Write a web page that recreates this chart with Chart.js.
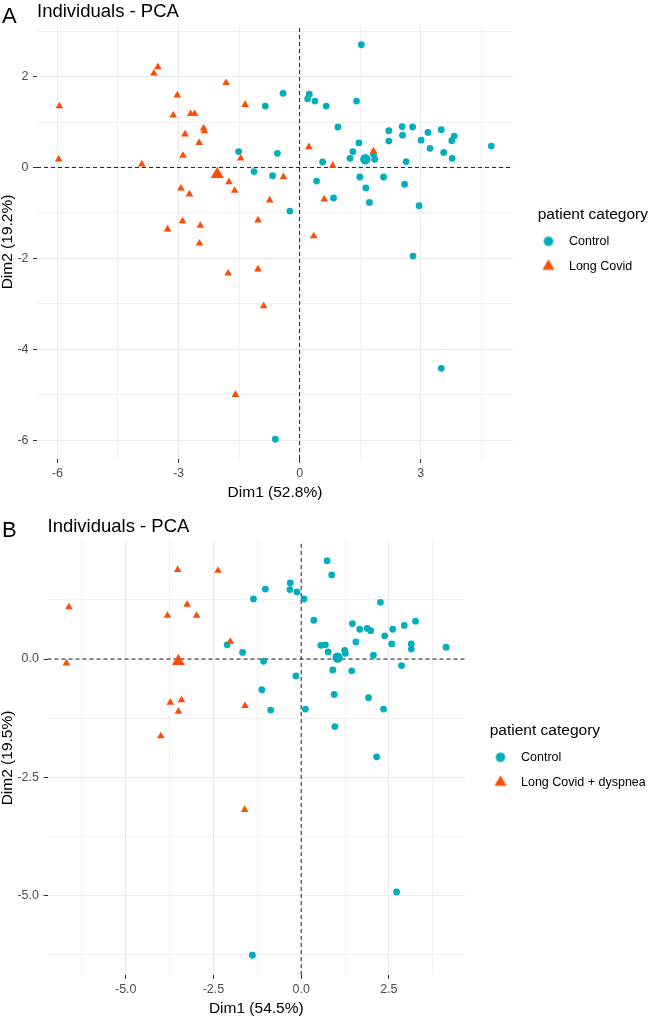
<!DOCTYPE html>
<html>
<head>
<meta charset="utf-8">
<title>Individuals - PCA</title>
<script src="https://cdn.jsdelivr.net/npm/chart.js@4.4.1/dist/chart.umd.min.js"></script>
<style>
  body { margin: 0; background: #fff; font-family: "Liberation Sans", Arial, sans-serif; }
  #wrap { position: relative; width: 648px; height: 1016px; overflow: hidden; }
  canvas { position: absolute; left: 0; }
  #pcaA { top: 0; }
  #pcaB { top: 500px; }
  .tag { position: absolute; font-size: 22px; line-height: 22px; color: #000; }
</style>
</head>
<body>
<div id="wrap">
  <canvas id="pcaA" width="648" height="500"></canvas>
  <canvas id="pcaB" width="648" height="516"></canvas>
  <div class="tag" style="left:2px;top:5px">A</div>
  <div class="tag" style="left:2px;top:519px">B</div>
</div>
<script>
// Panel A: Control vs Long Covid  (Dim1, Dim2)
const controlA = [
  [-0.41, 1.63], [-0.85, 1.35], [-1.51, 0.35], [-0.55, 0.31], [-1.13, -0.09], [-0.67, -0.18],
  [-0.24, -0.96], [0.20, 1.51], [0.24, 1.61], [0.38, 1.46], [0.66, 1.35], [0.57, 0.12],
  [0.42, -0.30], [1.53, 2.70], [1.41, 1.46], [0.95, 0.89], [1.47, 0.54], [1.32, 0.35],
  [1.25, 0.20], [1.86, 0.18], [1.83, 0.29], [2.21, 0.81], [2.21, 0.58], [2.54, 0.90],
  [2.55, 0.71], [2.80, 0.89], [3.18, 0.77], [3.01, 0.60], [3.23, 0.42], [3.51, 0.83],
  [3.57, 0.33], [3.77, 0.59], [3.83, 0.69], [3.78, 0.20], [2.64, 0.13], [4.75, 0.47],
  [1.49, -0.21], [2.08, -0.21], [1.64, -0.45], [2.60, -0.37], [1.73, -0.77], [0.84, -0.67],
  [2.96, -0.84], [2.81, -1.95], [3.51, -4.42], [-0.60, -5.98]
];
const longCovidA = [
  [-5.95, 1.35], [-5.97, 0.18], [-3.51, 2.21], [-3.61, 2.07], [-3.03, 1.59], [-3.13, 1.15],
  [-2.70, 1.18], [-2.60, 1.18], [-2.38, 0.86], [-2.36, 0.80], [-2.84, 0.73], [-2.49, 0.54],
  [-2.89, 0.26], [-3.91, 0.07], [-1.82, 1.86], [-1.35, 1.38], [-1.46, 0.20], [-1.75, -0.32],
  [-1.61, -0.51], [-2.94, -0.46], [-2.73, -0.59], [-0.40, -0.21], [-0.74, -0.72], [-2.90, -1.18],
  [-1.03, -1.16], [-3.27, -1.36], [-2.46, -1.28], [-2.48, -1.67], [0.23, 0.45], [0.61, -0.70],
  [0.35, -1.51], [-1.77, -2.33], [-1.03, -2.24], [-0.89, -3.05], [-1.59, -5.00], [1.83, 0.36],
  [0.82, 0.04]
];
const meanControlA = [[1.63, 0.18]];
const meanLongCovidA = [[-2.04, -0.15]];
const xTicksA = [-6, -4.5, -3, -1.5, 0, 1.5, 3, 4.5];
const xLabelValsA = [-6, -3, 0, 3];
const xLabelTextA = ['-6', '-3', '0', '3'];
const yTicksA = [-6, -5, -4, -3, -2, -1, 0, 1, 2, 3];
const yLabelValsA = [-6, -4, -2, 0, 2];
const yLabelTextA = ['-6', '-4', '-2', '0', '2'];

// Panel B: Control vs Long Covid + dyspnea
const controlB = [
  [-2.11, 0.30], [-1.67, 0.14], [-1.36, 1.27], [-1.02, 1.48], [-0.31, 1.61], [-0.32, 1.47],
  [-0.12, 1.42], [0.08, 1.27], [0.36, 0.82], [-1.07, -0.05], [-0.15, -0.36], [-1.12, -0.65],
  [-0.87, -1.08], [0.12, -1.06], [0.74, 2.08], [0.56, 0.29], [0.69, 0.30], [0.77, 0.15],
  [0.87, 1.78], [2.26, 1.20], [1.46, 0.75], [1.67, 0.63], [1.88, 0.65], [1.98, 0.60],
  [2.38, 0.49], [2.61, 0.63], [2.94, 0.71], [3.26, 0.80], [1.56, 0.36], [2.58, 0.32],
  [3.14, 0.32], [3.14, 0.21], [4.13, 0.25], [1.24, 0.18], [1.26, 0.12], [2.06, 0.08],
  [1.00, 0.05], [0.90, -0.23], [1.44, -0.25], [2.86, -0.14], [0.94, -0.75], [1.92, -0.82],
  [2.35, -1.06], [0.96, -1.43], [2.15, -2.07], [2.72, -4.93], [-1.39, -6.27]
];
const longCovidB = [
  [-6.62, 1.10], [-6.69, -0.09], [-3.52, 1.89], [-2.37, 1.87], [-3.25, 1.15], [-3.81, 0.92],
  [-2.98, 0.92], [-2.02, 0.37], [-3.73, -0.92], [-3.41, -0.87], [-3.50, -1.11], [-1.60, -0.99],
  [-4.00, -1.63], [-1.61, -3.19]
];
const meanControlB = [[1.04, 0.03]];
const meanLongCovidB = [[-3.50, -0.05]];
const xTicksB = [-6.25, -5, -3.75, -2.5, -1.25, 0, 1.25, 2.5, 3.75];
const xLabelValsB = [-5, -2.5, 0, 2.5];
const xLabelTextB = ['-5.0', '-2.5', '0.0', '2.5'];
const yTicksB = [-6.25, -5, -3.75, -2.5, -1.25, 0, 1.25];
const yLabelValsB = [-5, -2.5, 0];
const yLabelTextB = ['-5.0', '-2.5', '0.0'];

const TEAL = '#00AFBB';
const ORANGE = '#FC4E07';
const GRID = '#EBEBEB';

Chart.defaults.font.family = '"Liberation Sans", Arial, sans-serif';
Chart.defaults.color = '#000';

function toPts(arr) {
    return arr.map(p => ({ x: p[0], y: p[1] }));
}

function isMajor(v, majors) {
    return majors.some(m => Math.abs(m - v) < 1e-9);
}

function labelFor(vals, texts) {
    return function (v) {
        const i = vals.findIndex(m => Math.abs(m - v) < 1e-9);
        return i >= 0 ? texts[i] : '';
    };
}

// legend key drawn a bit left of the legend box centre, like ggplot's key
function legendKey(style, color) {
    const c = document.createElement('canvas');
    c.width = 30;
    c.height = 16;
    const g = c.getContext('2d');
    g.fillStyle = color;
    g.beginPath();
    if (style === 'triangle') {
        const r = 7;
        g.moveTo(7, 8 - r);
        g.lineTo(7 + r * 0.866, 8 + r / 2);
        g.lineTo(7 - r * 0.866, 8 + r / 2);
        g.closePath();
    } else {
        g.arc(7, 8, 4.8, 0, Math.PI * 2);
    }
    g.fill();
    return c;
}

// keep the legend title from being clipped at the legend box edge
const legendRoom = {
    id: 'legendRoom',
    afterLayout(chart) {
        const lg = chart.legend;
        if (lg) {
            lg.right = chart.width;
            lg.width = lg.right - lg.left;
        }
    }
};

function axis(p, dir) {
    const ticks = dir === 'x' ? p.xTicks : p.yTicks;
    const vals = dir === 'x' ? p.xLabelVals : p.yLabelVals;
    const texts = dir === 'x' ? p.xLabelText : p.yLabelText;
    return {
        type: 'linear',
        position: dir === 'x' ? 'bottom' : 'left',
        min: dir === 'x' ? p.xMin : p.yMin,
        max: dir === 'x' ? p.xMax : p.yMax,
        afterBuildTicks: s => { s.ticks = ticks.map(v => ({ value: v })); },
        afterFit: s => {
            if (dir === 'x') s.height = p.xAxisHeight;
            else s.width = p.yAxisWidth;
        },
        ticks: {
            autoSkip: false,
            maxRotation: 0,
            padding: dir === 'x' ? 3 : 4.5,
            color: '#4D4D4D',
            font: { size: 12.5 },
            callback: labelFor(vals, texts)
        },
        grid: {
            color: GRID,
            lineWidth: c => isMajor(c.tick.value, vals) ? 1 : 0.7,
            drawTicks: true,
            tickLength: 4,
            tickWidth: 1,
            tickColor: c => isMajor(c.tick.value, vals) ? '#333' : 'rgba(0,0,0,0)'
        },
        border: { display: false },
        title: {
            display: true,
            text: dir === 'x' ? p.xTitle : p.yTitle,
            color: '#000',
            font: { size: 15.5, lineHeight: 1 },
            padding: 0
        }
    };
}

function buildPanel(id, p) {
    const ctx = document.getElementById(id).getContext('2d');
    const dash = { type: 'line', borderColor: '#222', borderWidth: 1, borderDash: [4, 3], pointRadius: 0, order: 5 };
    return new Chart(ctx, {
        type: 'scatter',
        data: {
            datasets: [
                { label: 'Control', data: toPts(p.control), pointStyle: 'circle', pointRadius: 3.4,
                  backgroundColor: TEAL, borderColor: TEAL, pointBorderWidth: 0, order: 3 },
                { label: p.groupName, data: toPts(p.longCovid), pointStyle: 'triangle', pointRadius: 4.4,
                  backgroundColor: ORANGE, borderColor: ORANGE, pointBorderWidth: 0, order: 2 },
                { label: 'mean Control', data: toPts(p.meanControl), pointStyle: 'circle', pointRadius: 5.2,
                  backgroundColor: TEAL, borderColor: TEAL, pointBorderWidth: 0, order: 1 },
                { label: 'mean ' + p.groupName, data: toPts(p.meanLongCovid), pointStyle: 'triangle', pointRadius: 7.5,
                  backgroundColor: ORANGE, borderColor: ORANGE, pointBorderWidth: 0, order: 0 },
                Object.assign({ label: 'h0', data: [{ x: p.xMin, y: 0 }, { x: p.xMax, y: 0 }] }, dash),
                Object.assign({ label: 'v0', data: [{ x: 0, y: p.yMin }, { x: 0, y: p.yMax }] }, dash)
            ]
        },
        plugins: [legendRoom],
        options: {
            responsive: false,
            animation: false,
            events: [],
            layout: { padding: { left: 0, right: p.padRight, top: 0, bottom: 0 }, autoPadding: false },
            plugins: {
                title: {
                    display: true,
                    text: 'Individuals - PCA',
                    align: 'start',
                    fullSize: false,
                    color: '#000',
                    font: { size: 18.5, weight: 'normal', lineHeight: 1 },
                    padding: { top: p.titleTop, bottom: p.titleBottom }
                },
                legend: {
                    position: 'right',
                    align: 'center',
                    fullSize: false,
                    maxWidth: p.legendWidth,
                    title: {
                        display: true,
                        text: 'patient category',
                        color: '#000',
                        position: 'start',
                        font: { size: 15.5, weight: 'normal' },
                        padding: { top: 8, bottom: -3 }
                    },
                    labels: {
                        usePointStyle: true,
                        boxHeight: 8.5,
                        padding: 12.5,
                        color: '#000',
                        font: { size: 12.5 },
                        generateLabels: chart => {
                            const items = Chart.defaults.plugins.legend.labels.generateLabels(chart);
                            items.forEach(it => {
                                const ds = chart.data.datasets[it.datasetIndex];
                                it.pointStyle = legendKey(ds.pointStyle, ds.backgroundColor);
                            });
                            return items;
                        },
                        filter: item => item.datasetIndex < 2,
                        sort: (a, b) => a.datasetIndex - b.datasetIndex
                    }
                },
                tooltip: { enabled: false }
            },
            scales: {
                x: axis(p, 'x'),
                y: axis(p, 'y'),
                gap: {
                    type: 'linear',
                    position: 'right',
                    grid: { display: false, drawTicks: false },
                    ticks: { display: false },
                    border: { display: false },
                    afterFit: s => { s.width = p.gap; }
                }
            }
        }
    });
}

buildPanel('pcaA', {
    control: controlA, longCovid: longCovidA,
    meanControl: meanControlA, meanLongCovid: meanLongCovidA,
    groupName: 'Long Covid',
    xMin: -6.506, xMax: 5.286, yMin: -6.414, yMax: 3.134,
    xTicks: xTicksA, xLabelVals: xLabelValsA, xLabelText: xLabelTextA,
    yTicks: yTicksA, yLabelVals: yLabelValsA, yLabelText: yLabelTextA,
    xTitle: 'Dim1 (52.8%)', yTitle: 'Dim2 (19.2%)',
    yAxisWidth: 37, xAxisHeight: 41, titleTop: 3, titleBottom: 3.5,
    padRight: 5.8, legendWidth: 200, gap: 24.75
});

buildPanel('pcaB', {
    control: controlB, longCovid: longCovidB,
    meanControl: meanControlB, meanLongCovid: meanLongCovidB,
    groupName: 'Long Covid + dyspnea',
    xMin: -7.23, xMax: 4.67, yMin: -6.6875, yMax: 2.4975,
    xTicks: xTicksB, xLabelVals: xLabelValsB, xLabelText: xLabelTextB,
    yTicks: yTicksB, yLabelVals: yLabelValsB, yLabelText: yLabelTextB,
    xTitle: 'Dim1 (54.5%)', yTitle: 'Dim2 (19.5%)',
    yAxisWidth: 47.5, xAxisHeight: 41, titleTop: 18, titleBottom: 4.5,
    padRight: 0, legendWidth: 158.25, gap: 24.75
});
</script>
</body>
</html>
